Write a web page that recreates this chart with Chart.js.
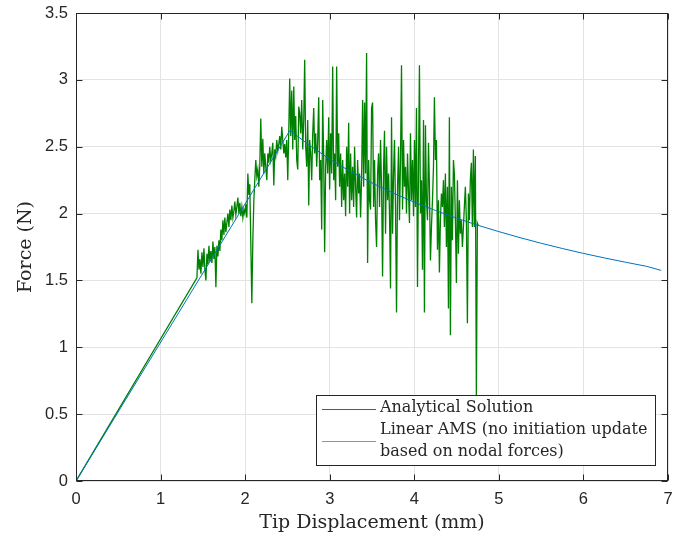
<!DOCTYPE html>
<html>
<head>
<meta charset="utf-8">
<script src="https://cdn.jsdelivr.net/npm/chart.js@4"></script>
<style>
  html, body { margin: 0; padding: 0; background: #ffffff; }
  #c { display: block; }
</style>
</head>
<body>
<canvas id="c" width="673" height="542"></canvas>
<script>
// ---------------- DATA ----------------
const seriesNames = ["Analytical Solution", "Linear AMS (no initiation update", "based on nodal forces)"];
const xAxisTitle = "Tip Displacement (mm)";
const yAxisTitle = "Force (N)";

const analyticalX = [0, 2.53, 2.75, 3.00, 3.25, 3.50, 3.75, 4.00, 4.25, 4.50, 4.75, 5.00, 5.25, 5.50, 5.75, 6.00, 6.25, 6.50, 6.75, 6.92];
const analyticalY = [0, 2.622, 2.515, 2.407, 2.313, 2.229, 2.153, 2.085, 2.023, 1.966, 1.913, 1.865, 1.820, 1.778, 1.739, 1.702, 1.668, 1.636, 1.605, 1.575];

const amsX = [0,
  1.430,1.442,1.454,1.465,1.477,1.489,1.501,1.513,1.524,1.536,
  1.548,1.560,1.572,1.583,1.595,1.607,1.619,1.631,1.642,1.654,
  1.666,1.678,1.690,1.701,1.713,1.725,1.737,1.749,1.760,1.772,
  1.784,1.796,1.808,1.819,1.831,1.843,1.855,1.867,1.878,1.890,
  1.902,1.914,1.926,1.937,1.949,1.961,1.973,1.985,1.996,2.008,
  2.020,2.032,2.044,2.055,2.067,2.079,2.091,2.103,2.114,2.126,
  2.138,2.150,2.162,2.173,2.185,2.197,2.209,2.221,2.232,2.244,
  2.256,2.268,2.280,2.291,2.303,2.315,2.327,2.339,2.350,2.362,
  2.374,2.386,2.398,2.409,2.421,2.433,2.445,2.457,2.468,2.480,
  2.492,2.504,2.516,2.527,2.539,2.551,2.563,2.575,2.586,2.598,
  2.610,2.622,2.634,2.645,2.657,2.669,2.681,2.693,2.704,2.716,
  2.728,2.740,2.752,2.763,2.775,2.787,2.799,2.811,2.822,2.834,
  2.846,2.858,2.870,2.881,2.893,2.905,2.917,2.929,2.940,2.952,
  2.964,2.976,2.988,2.999,3.011,3.023,3.035,3.047,3.058,3.070,
  3.082,3.094,3.106,3.117,3.129,3.141,3.153,3.165,3.176,3.188,
  3.200,3.212,3.224,3.235,3.247,3.259,3.271,3.283,3.294,3.306,
  3.318,3.330,3.342,3.353,3.365,3.377,3.389,3.401,3.412,3.424,
  3.436,3.448,3.460,3.471,3.483,3.495,3.507,3.519,3.530,3.542,
  3.554,3.566,3.578,3.589,3.601,3.613,3.625,3.637,3.648,3.660,
  3.672,3.684,3.696,3.707,3.719,3.731,3.743,3.755,3.766,3.778,
  3.790,3.802,3.814,3.825,3.837,3.849,3.861,3.873,3.884,3.896,
  3.908,3.920,3.932,3.943,3.955,3.967,3.979,3.991,4.002,4.014,
  4.026,4.038,4.050,4.061,4.073,4.085,4.097,4.109,4.120,4.132,
  4.144,4.156,4.168,4.179,4.191,4.203,4.215,4.227,4.238,4.250,
  4.262,4.274,4.286,4.297,4.309,4.321,4.333,4.345,4.356,4.368,
  4.380,4.392,4.404,4.415,4.427,4.439,4.451,4.463,4.474,4.486,
  4.498,4.510,4.522,4.533,4.545,4.557,4.569,4.581,4.592,4.604,
  4.616,4.628,4.640,4.651,4.663,4.675,4.687,4.699,4.710,4.722,
  4.734,4.746,4.758];

const amsY = [0,
  1.52,1.73,1.58,1.66,1.55,1.71,1.60,1.74,1.58,1.50,
  1.70,1.62,1.76,1.64,1.72,1.63,1.79,1.66,1.75,1.45,
  1.76,1.68,1.80,1.72,1.88,1.80,1.95,1.84,1.97,1.86,
  1.93,2.00,1.90,2.03,1.95,2.06,1.97,2.02,2.09,1.99,
  2.05,2.12,2.00,2.08,1.98,2.05,1.97,2.03,2.00,2.07,
  1.97,2.30,2.14,2.22,1.78,1.33,1.80,2.10,2.25,2.40,
  2.28,2.33,2.20,2.36,2.71,2.35,2.56,2.30,2.45,2.35,
  2.25,2.45,2.38,2.50,2.40,2.45,2.53,2.21,2.48,2.43,
  2.55,2.47,2.52,2.58,2.48,2.65,2.55,2.45,2.52,2.42,
  2.55,2.25,2.62,3.01,2.58,2.92,2.48,2.95,2.55,2.73,
  2.40,2.33,2.80,2.75,2.60,2.85,2.48,2.70,3.15,2.50,
  2.35,2.70,2.06,2.55,2.45,2.25,2.60,2.79,2.45,2.60,
  2.35,2.55,2.87,2.25,2.40,1.88,2.85,2.40,1.71,2.35,
  2.55,2.30,2.72,2.18,2.60,2.30,3.10,2.25,2.45,2.10,
  3.10,2.35,2.60,2.20,2.45,2.05,2.40,2.10,2.30,1.98,
  2.50,2.20,2.68,2.00,2.45,2.10,2.35,2.05,2.50,2.20,
  1.97,2.40,2.15,2.30,1.97,2.27,2.85,2.20,2.83,2.30,
  3.20,1.63,2.40,2.10,2.03,2.79,2.83,2.05,2.40,1.95,
  1.75,2.30,2.45,2.05,2.55,2.20,1.53,2.35,2.62,1.85,
  2.50,2.10,2.30,2.00,1.44,2.72,1.85,2.30,2.55,2.05,
  1.26,2.20,2.50,1.95,2.40,3.11,2.03,2.55,2.20,2.35,
  2.00,2.45,2.15,1.93,2.60,2.10,2.40,1.98,2.55,2.05,
  2.79,1.45,2.35,3.11,2.00,2.25,1.58,2.70,1.26,2.66,
  2.10,1.95,2.53,2.20,1.65,1.90,2.10,2.35,2.87,2.40,
  2.55,1.73,2.10,1.56,1.95,2.15,2.05,2.25,1.90,2.30,
  1.75,2.20,1.29,2.72,1.09,2.20,1.80,2.40,2.30,1.95,
  1.48,2.25,1.70,2.10,1.85,1.95,1.75,1.90,2.05,2.20,
  1.95,1.18,2.15,1.95,2.25,2.38,1.90,2.48,1.90,2.43,
  0.64,1.93,1.91];

// ---------------- STYLE ----------------
const BLUE = "#0072BD";
const GREEN = "#008000";
const AXIS = "#262626";
const GRID = "#e3e3e3";
const SERIF = "'DejaVu Serif', 'Liberation Serif', serif";
const SANS = "'Liberation Sans', Arial, sans-serif";

const toPts = (xs, ys) => xs.map((x, i) => ({ x: x, y: ys[i] }));

const framePlugin = {
  id: 'frame',
  afterDraw(chart) {
    const ctx = chart.ctx;
    const a = chart.chartArea;
    const xs = chart.scales.x, ys = chart.scales.y;
    ctx.save();
    ctx.strokeStyle = AXIS;
    ctx.lineWidth = 1;
    const L = Math.round(a.left) + 0.5, R = Math.round(a.right) - 0.5;
    const T = Math.round(a.top) + 0.5, B = Math.round(a.bottom) - 0.5;
    ctx.strokeRect(L, T, R - L, B - T);
    const tl = 6;
    ctx.beginPath();
    xs.ticks.forEach(t => {
      const p = Math.round(xs.getPixelForValue(t.value)) + 0.5;
      ctx.moveTo(p, B); ctx.lineTo(p, B - tl);
      ctx.moveTo(p, T); ctx.lineTo(p, T + tl);
    });
    ys.ticks.forEach(t => {
      const p = Math.round(ys.getPixelForValue(t.value)) + 0.5;
      ctx.moveTo(L, p); ctx.lineTo(L + tl, p);
      ctx.moveTo(R, p); ctx.lineTo(R - tl, p);
    });
    ctx.stroke();

    // axis titles
    ctx.fillStyle = AXIS;
    ctx.font = "19px " + SERIF;
    ctx.textAlign = "center";
    ctx.textBaseline = "middle";
    ctx.fillText(xAxisTitle, (a.left + a.right) / 2, 523);
    ctx.save();
    ctx.translate(26, 247);
    ctx.rotate(-Math.PI / 2);
    ctx.fillText(yAxisTitle, 0, 0);
    ctx.restore();

    // legend
    const bx = 316.5, by = 395.5, bw = 339, bh = 70;
    ctx.fillStyle = "#ffffff";
    ctx.fillRect(bx, by, bw, bh);
    ctx.strokeStyle = AXIS;
    ctx.lineWidth = 1;
    ctx.strokeRect(bx, by, bw, bh);
    ctx.strokeStyle = BLUE;
    ctx.beginPath(); ctx.moveTo(322, 409.5); ctx.lineTo(376, 409.5); ctx.stroke();
    ctx.strokeStyle = "#5cb86c";
    ctx.beginPath(); ctx.moveTo(322, 441.5); ctx.lineTo(376, 441.5); ctx.stroke();
    ctx.fillStyle = AXIS;
    ctx.font = "16px " + SERIF;
    ctx.textAlign = "left";
    ctx.textBaseline = "middle";
    ctx.fillText(seriesNames[0], 380, 408);
    ctx.fillText(seriesNames[1], 380, 430);
    ctx.fillText(seriesNames[2], 380, 452);
    ctx.restore();
  }
};

new Chart(document.getElementById('c'), {
  type: 'line',
  data: {
    datasets: [
      { label: seriesNames[0], data: toPts(analyticalX, analyticalY), borderColor: BLUE, borderWidth: 1, pointRadius: 0, fill: false, tension: 0 },
      { label: seriesNames[1] + " " + seriesNames[2], data: toPts(amsX, amsY), borderColor: GREEN, borderWidth: 1.3, pointRadius: 0, fill: false, tension: 0 }
    ]
  },
  options: {
    responsive: false,
    animation: false,
    devicePixelRatio: 1,
    layout: { padding: { top: 13, right: 5, left: 0, bottom: 0 } },
    plugins: { legend: { display: false }, tooltip: { enabled: false } },
    scales: {
      x: {
        type: 'linear', min: 0, max: 7,
        ticks: { stepSize: 1, font: { family: SANS, size: 16.5 }, color: AXIS, padding: 9, maxRotation: 0, callback: v => String(v) },
        grid: { color: GRID, drawTicks: false },
        border: { display: false },
        afterFit(s) { s.height = 61; s.paddingLeft = 0; s.paddingRight = 0; }
      },
      y: {
        type: 'linear', min: 0, max: 3.5,
        ticks: { stepSize: 0.5, font: { family: SANS, size: 16.5 }, color: AXIS, padding: 8, callback: v => String(v) },
        grid: { color: GRID, drawTicks: false },
        border: { display: false },
        afterFit(s) { s.width = 76; s.paddingTop = 0; s.paddingBottom = 0; }
      }
    }
  },
  plugins: [framePlugin]
});
</script>
</body>
</html>
